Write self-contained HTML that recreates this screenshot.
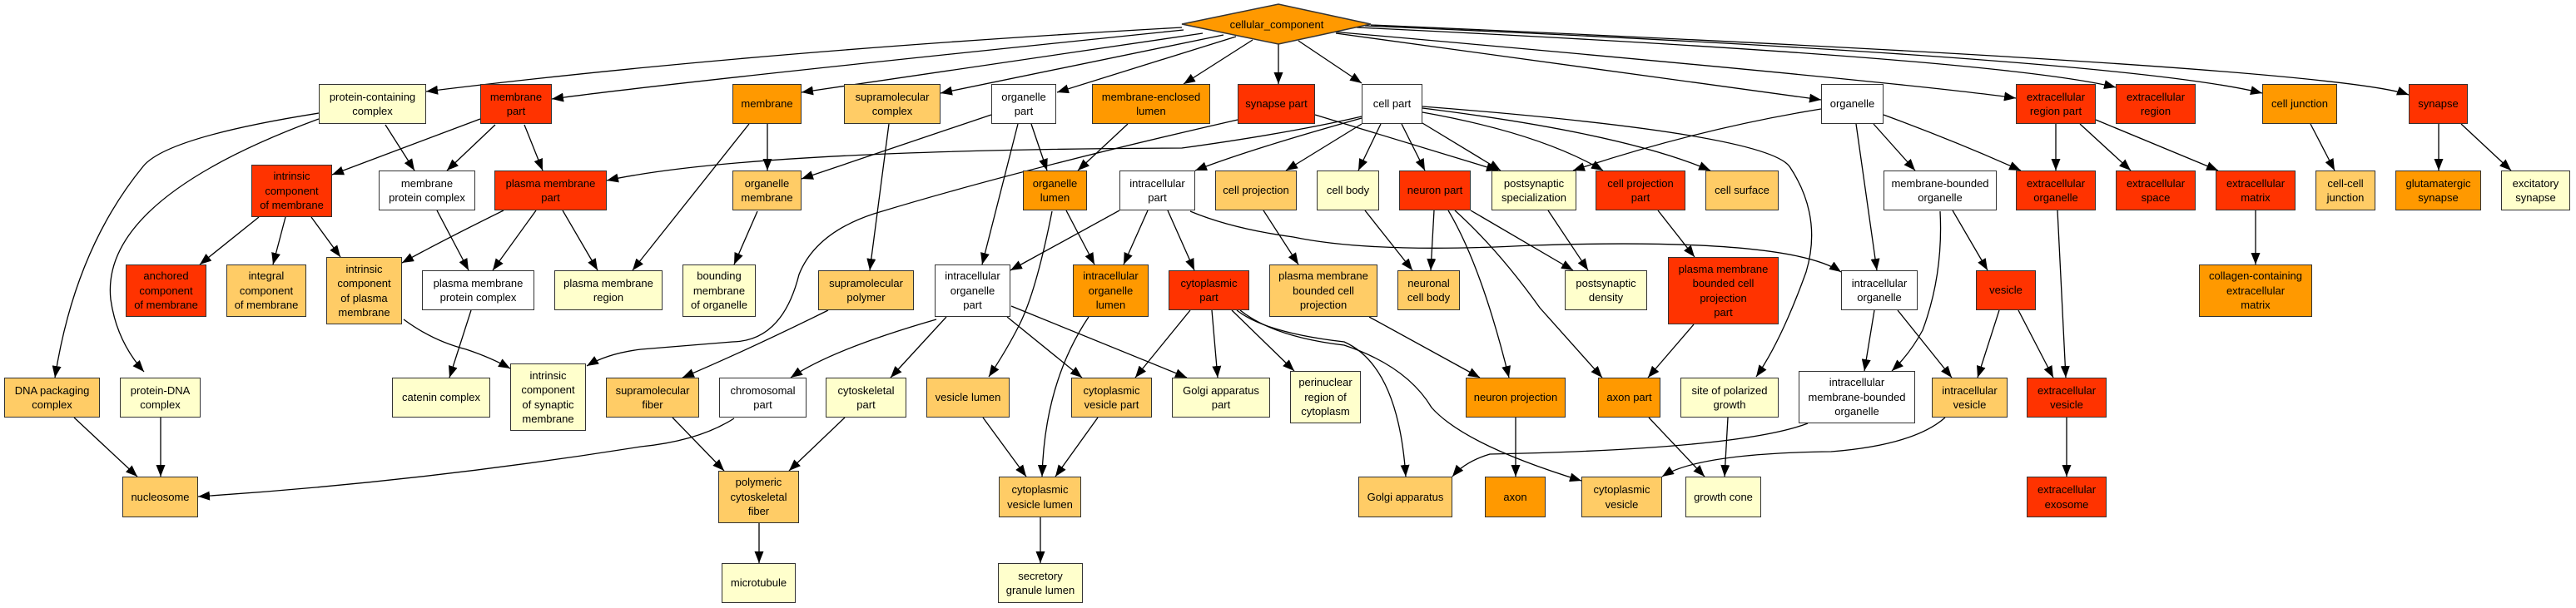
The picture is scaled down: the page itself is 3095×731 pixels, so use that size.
<!DOCTYPE html>
<html><head><meta charset="utf-8"><style>
html,body{margin:0;padding:0;background:#fff;}
#c{position:relative;width:3095px;height:731px;overflow:hidden;background:#fff;}
.n{position:absolute;box-sizing:border-box;border:1.5px solid #333;display:flex;align-items:center;justify-content:center;text-align:center;font-family:"Liberation Sans",sans-serif;font-size:13px;line-height:17.5px;color:#000;}
.R{background:#FF3300}.O{background:#FF9900}.L{background:#FFCC66}.Y{background:#FFFFCC}.W{background:#fff}
svg{position:absolute;left:0;top:0}
path{fill:none;stroke:#000;stroke-width:1.3}
</style></head><body><div id="c">
<svg width="3095" height="731">
<defs><marker id="a" markerUnits="userSpaceOnUse" markerWidth="14" markerHeight="11" refX="14" refY="5.5" orient="auto"><path d="M0,0 L14,5.5 L0,11 z" style="fill:#000;stroke:none"/></marker></defs>
<g marker-end="url(#a)">
<path d="M1420,33 Q900,62 512,110"/>
<path d="M1422,36 Q800,100 663,119"/>
<path d="M1445,40 L963,111"/>
<path d="M1470,42 L1130,112"/>
<path d="M1485,44 L1270,111"/>
<path d="M1505,48 L1422,101"/>
<path d="M1536,53 L1536,101"/>
<path d="M1560,49 L1636,100"/>
<path d="M1605,40 L2188,120"/>
<path d="M1600,38 Q2300,100 2422,118"/>
<path d="M1630,33 Q2400,70 2542,105"/>
<path d="M1640,31 Q2550,70 2718,112"/>
<path d="M1647,30 Q2800,80 2894,114"/>
<path d="M463,150 L498,205"/>
<path d="M383,136 Q200,165 172,200 Q90,300 66,454"/>
<path d="M383,143 Q120,240 133,360 Q140,410 173,447"/>
<path d="M577,143 L399,210"/>
<path d="M595,150 L537,205"/>
<path d="M630,150 L652,205"/>
<path d="M311,261 L240,318"/>
<path d="M343,261 L328,318"/>
<path d="M374,261 L409,309"/>
<path d="M525,253 L563,325"/>
<path d="M605,253 Q530,290 483,316"/>
<path d="M644,253 L592,325"/>
<path d="M676,253 L718,325"/>
<path d="M900,149 L760,325"/>
<path d="M922,149 L922,205"/>
<path d="M910,254 L882,318"/>
<path d="M566,373 L540,454"/>
<path d="M485,384 Q520,410 560,420 Q590,430 613,443"/>
<path d="M1487,144 Q1220,205 1050,257 Q980,280 960,330 Q940,410 880,411 L770,420 Q730,425 705,440"/>
<path d="M1636,140 Q1550,160 1420,178 Q900,180 729,217"/>
<path d="M1636,149 L1545,205"/>
<path d="M1636,142 Q1500,180 1436,205"/>
<path d="M1580,138 L1800,205"/>
<path d="M1191,138 L963,215"/>
<path d="M1223,149 L1180,318"/>
<path d="M1239,149 L1258,205"/>
<path d="M1355,149 L1295,205"/>
<path d="M1068,149 L1045,325"/>
<path d="M995,373 Q900,420 820,454"/>
<path d="M1345,253 L1214,325"/>
<path d="M1379,253 L1350,318"/>
<path d="M1403,253 L1435,325"/>
<path d="M1430,254 Q1480,275 1554,285 Q1650,305 1840,295 Q2150,285 2212,327"/>
<path d="M1281,253 L1315,318"/>
<path d="M1264,254 Q1245,350 1225,390 Q1210,420 1188,453"/>
<path d="M1308,381 Q1255,460 1252,573"/>
<path d="M1125,384 Q1000,420 950,454"/>
<path d="M1137,381 L1070,454"/>
<path d="M1210,381 L1300,454"/>
<path d="M1215,368 L1426,454"/>
<path d="M882,503 Q840,530 770,537 Q500,580 238,597"/>
<path d="M808,502 L870,566"/>
<path d="M1015,502 L948,566"/>
<path d="M912,629 L912,677"/>
<path d="M1181,502 L1233,573"/>
<path d="M1319,502 L1268,573"/>
<path d="M1250,622 L1250,677"/>
<path d="M1430,373 L1364,454"/>
<path d="M1456,373 L1463,454"/>
<path d="M1480,373 L1555,446"/>
<path d="M1486,373 Q1520,400 1615,411 Q1680,440 1689,573"/>
<path d="M1490,373 Q1530,405 1615,415 Q1690,440 1720,490 Q1760,535 1900,578"/>
<path d="M1518,253 L1560,318"/>
<path d="M1645,381 L1778,454"/>
<path d="M1659,149 L1632,205"/>
<path d="M1684,149 L1712,205"/>
<path d="M1709,148 L1803,205"/>
<path d="M1709,135 Q1850,160 1926,205"/>
<path d="M1709,130 Q1950,160 2055,205"/>
<path d="M1709,128 Q2120,160 2150,200 Q2190,260 2170,327 Q2140,410 2110,453"/>
<path d="M1640,253 L1697,325"/>
<path d="M1723,253 L1719,325"/>
<path d="M1740,253 Q1780,320 1813,454"/>
<path d="M1748,253 Q1800,300 1850,370 Q1890,415 1925,454"/>
<path d="M1767,253 L1890,325"/>
<path d="M1860,253 L1908,325"/>
<path d="M1992,253 L2036,309"/>
<path d="M2035,390 L1980,454"/>
<path d="M1821,502 L1821,573"/>
<path d="M1981,502 L2048,573"/>
<path d="M2076,502 L2072,573"/>
<path d="M2172,509 Q2090,540 1790,546 Q1760,555 1745,573"/>
<path d="M2337,502 Q2300,535 2200,543 Q2040,545 1997,573"/>
<path d="M2188,131 Q2040,155 1890,205"/>
<path d="M2230,149 L2255,325"/>
<path d="M2251,149 L2301,205"/>
<path d="M2263,138 Q2350,170 2428,205"/>
<path d="M2331,254 Q2335,330 2310,397 Q2295,425 2273,446"/>
<path d="M2346,253 L2388,325"/>
<path d="M2252,373 L2240,446"/>
<path d="M2280,373 L2345,454"/>
<path d="M2402,373 L2376,454"/>
<path d="M2425,373 L2467,454"/>
<path d="M2472,253 L2482,454"/>
<path d="M2483,502 L2483,573"/>
<path d="M2470,149 L2470,205"/>
<path d="M2499,149 L2560,205"/>
<path d="M2518,144 L2665,205"/>
<path d="M2710,253 L2710,318"/>
<path d="M2776,149 L2805,205"/>
<path d="M2930,149 L2930,205"/>
<path d="M2957,149 L3017,205"/>
<path d="M89,502 L165,573"/>
<path d="M193,502 L193,573"/>
</g>
<polygon points="1420,29 1536,5 1647,29 1536,53" fill="#FF9900" stroke="#333" stroke-width="1.5"/>
<text x="1534" y="34" text-anchor="middle" font-family="Liberation Sans, sans-serif" font-size="13">cellular_component</text>
</svg>

<div class="n Y" style="left:383px;top:101px;width:129px;height:48px">protein-containing<br>complex</div>
<div class="n R" style="left:577px;top:101px;width:86px;height:48px">membrane<br>part</div>
<div class="n O" style="left:880px;top:101px;width:83px;height:48px">membrane</div>
<div class="n L" style="left:1014px;top:101px;width:116px;height:48px">supramolecular<br>complex</div>
<div class="n W" style="left:1191px;top:101px;width:78px;height:48px">organelle<br>part</div>
<div class="n O" style="left:1312px;top:101px;width:142px;height:48px">membrane-enclosed<br>lumen</div>
<div class="n R" style="left:1487px;top:101px;width:93px;height:48px">synapse part</div>
<div class="n W" style="left:1636px;top:101px;width:73px;height:48px">cell part</div>
<div class="n W" style="left:2188px;top:101px;width:75px;height:48px">organelle</div>
<div class="n R" style="left:2422px;top:101px;width:96px;height:48px">extracellular<br>region part</div>
<div class="n R" style="left:2542px;top:101px;width:96px;height:48px">extracellular<br>region</div>
<div class="n O" style="left:2718px;top:101px;width:90px;height:48px">cell junction</div>
<div class="n R" style="left:2894px;top:101px;width:71px;height:48px">synapse</div>

<div class="n R" style="left:302px;top:198px;width:97px;height:63px">intrinsic<br>component<br>of membrane</div>
<div class="n W" style="left:455px;top:205px;width:116px;height:48px">membrane<br>protein complex</div>
<div class="n R" style="left:594px;top:205px;width:135px;height:48px">plasma membrane<br>part</div>
<div class="n L" style="left:880px;top:205px;width:83px;height:48px">organelle<br>membrane</div>
<div class="n O" style="left:1229px;top:205px;width:77px;height:48px">organelle<br>lumen</div>
<div class="n W" style="left:1345px;top:205px;width:91px;height:48px">intracellular<br>part</div>
<div class="n L" style="left:1460px;top:205px;width:98px;height:48px">cell projection</div>
<div class="n Y" style="left:1582px;top:205px;width:75px;height:48px">cell body</div>
<div class="n R" style="left:1681px;top:205px;width:86px;height:48px">neuron part</div>
<div class="n Y" style="left:1792px;top:205px;width:102px;height:48px">postsynaptic<br>specialization</div>
<div class="n R" style="left:1917px;top:205px;width:108px;height:48px">cell projection<br>part</div>
<div class="n L" style="left:2049px;top:205px;width:88px;height:48px">cell surface</div>
<div class="n W" style="left:2263px;top:205px;width:136px;height:48px">membrane-bounded<br>organelle</div>
<div class="n R" style="left:2422px;top:205px;width:96px;height:48px">extracellular<br>organelle</div>
<div class="n R" style="left:2542px;top:205px;width:96px;height:48px">extracellular<br>space</div>
<div class="n R" style="left:2662px;top:205px;width:96px;height:48px">extracellular<br>matrix</div>
<div class="n L" style="left:2782px;top:205px;width:72px;height:48px">cell-cell<br>junction</div>
<div class="n O" style="left:2878px;top:205px;width:103px;height:48px">glutamatergic<br>synapse</div>
<div class="n Y" style="left:3005px;top:205px;width:83px;height:48px">excitatory<br>synapse</div>

<div class="n R" style="left:151px;top:318px;width:97px;height:63px">anchored<br>component<br>of membrane</div>
<div class="n L" style="left:272px;top:318px;width:96px;height:63px">integral<br>component<br>of membrane</div>
<div class="n L" style="left:392px;top:309px;width:91px;height:81px">intrinsic<br>component<br>of plasma<br>membrane</div>
<div class="n W" style="left:507px;top:325px;width:135px;height:48px">plasma membrane<br>protein complex</div>
<div class="n Y" style="left:666px;top:325px;width:130px;height:48px">plasma membrane<br>region</div>
<div class="n Y" style="left:820px;top:318px;width:88px;height:63px">bounding<br>membrane<br>of organelle</div>
<div class="n L" style="left:983px;top:325px;width:115px;height:48px">supramolecular<br>polymer</div>
<div class="n W" style="left:1123px;top:318px;width:91px;height:63px">intracellular<br>organelle<br>part</div>
<div class="n O" style="left:1289px;top:318px;width:91px;height:63px">intracellular<br>organelle<br>lumen</div>
<div class="n R" style="left:1404px;top:325px;width:97px;height:48px">cytoplasmic<br>part</div>
<div class="n L" style="left:1525px;top:318px;width:130px;height:63px">plasma membrane<br>bounded cell<br>projection</div>
<div class="n L" style="left:1679px;top:325px;width:75px;height:48px">neuronal<br>cell body</div>
<div class="n Y" style="left:1880px;top:325px;width:99px;height:48px">postsynaptic<br>density</div>
<div class="n R" style="left:2004px;top:309px;width:133px;height:81px">plasma membrane<br>bounded cell<br>projection<br>part</div>
<div class="n W" style="left:2212px;top:325px;width:92px;height:48px">intracellular<br>organelle</div>
<div class="n R" style="left:2374px;top:325px;width:72px;height:48px">vesicle</div>
<div class="n O" style="left:2642px;top:318px;width:136px;height:63px">collagen-containing<br>extracellular<br>matrix</div>

<div class="n L" style="left:5px;top:454px;width:115px;height:48px">DNA packaging<br>complex</div>
<div class="n Y" style="left:144px;top:454px;width:97px;height:48px">protein-DNA<br>complex</div>
<div class="n Y" style="left:471px;top:454px;width:118px;height:48px">catenin complex</div>
<div class="n Y" style="left:613px;top:437px;width:91px;height:81px">intrinsic<br>component<br>of synaptic<br>membrane</div>
<div class="n L" style="left:728px;top:454px;width:112px;height:48px">supramolecular<br>fiber</div>
<div class="n W" style="left:864px;top:454px;width:105px;height:48px">chromosomal<br>part</div>
<div class="n Y" style="left:992px;top:454px;width:97px;height:48px">cytoskeletal<br>part</div>
<div class="n L" style="left:1113px;top:454px;width:100px;height:48px">vesicle lumen</div>
<div class="n L" style="left:1287px;top:454px;width:97px;height:48px">cytoplasmic<br>vesicle part</div>
<div class="n Y" style="left:1408px;top:454px;width:118px;height:48px">Golgi apparatus<br>part</div>
<div class="n Y" style="left:1550px;top:446px;width:85px;height:63px">perinuclear<br>region of<br>cytoplasm</div>
<div class="n O" style="left:1761px;top:454px;width:120px;height:48px">neuron projection</div>
<div class="n O" style="left:1920px;top:454px;width:75px;height:48px">axon part</div>
<div class="n Y" style="left:2019px;top:454px;width:118px;height:48px">site of polarized<br>growth</div>
<div class="n W" style="left:2161px;top:446px;width:140px;height:63px">intracellular<br>membrane-bounded<br>organelle</div>
<div class="n L" style="left:2321px;top:454px;width:91px;height:48px">intracellular<br>vesicle</div>
<div class="n R" style="left:2435px;top:454px;width:96px;height:48px">extracellular<br>vesicle</div>

<div class="n L" style="left:147px;top:573px;width:91px;height:49px">nucleosome</div>
<div class="n L" style="left:863px;top:566px;width:97px;height:63px">polymeric<br>cytoskeletal<br>fiber</div>
<div class="n L" style="left:1200px;top:573px;width:99px;height:49px">cytoplasmic<br>vesicle lumen</div>
<div class="n L" style="left:1632px;top:573px;width:113px;height:49px">Golgi apparatus</div>
<div class="n O" style="left:1784px;top:573px;width:73px;height:49px">axon</div>
<div class="n L" style="left:1900px;top:573px;width:97px;height:49px">cytoplasmic<br>vesicle</div>
<div class="n Y" style="left:2025px;top:573px;width:91px;height:49px">growth cone</div>
<div class="n R" style="left:2435px;top:573px;width:96px;height:49px">extracellular<br>exosome</div>

<div class="n Y" style="left:867px;top:677px;width:89px;height:48px">microtubule</div>
<div class="n Y" style="left:1199px;top:677px;width:102px;height:48px">secretory<br>granule lumen</div>
</div></body></html>
